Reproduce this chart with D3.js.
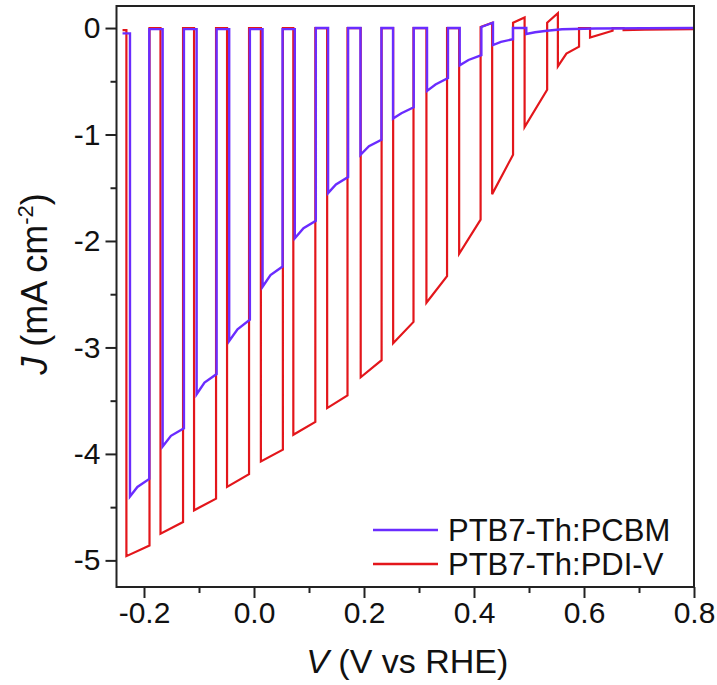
<!DOCTYPE html>
<html><head><meta charset="utf-8">
<script src="https://cdn.jsdelivr.net/npm/d3@7/dist/d3.min.js"></script>
<style>body{margin:0;background:#fff}svg{display:block}text{font-family:"Liberation Sans",Arial,sans-serif;fill:#111}</style>
</head><body><svg id="c" width="717" height="685"></svg>
<script>
// PTB7-Th:PDI-V (red) chopped-light LSV, points [V, J]
const pdiV = [-0.239,-0.232,-0.232,-0.190,-0.190,-0.170,-0.170,-0.129,-0.129,-0.109,-0.109,-0.069,-0.069,-0.049,-0.049,-0.009,-0.009,0.0125,0.0125,0.0525,0.0525,0.0715,0.0715,0.1115,0.1115,0.133,0.133,0.170,0.170,0.194,0.194,0.232,0.232,0.253,0.253,0.290,0.290,0.3135,0.3135,0.351,0.351,0.373,0.373,0.412,0.412,0.433,0.433,0.471,0.471,0.492,0.492,0.533,0.533,0.5525,0.5525,0.568,0.591,0.591,0.611,0.611,0.652,0.652,0.672,0.672,0.71,0.8];
const pdiJ = [-0.02,-0.02,-4.96,-4.86,0.0,0.0,-4.75,-4.64,0.0,0.0,-4.53,-4.42,0.0,0.0,-4.31,-4.19,0.0,0.0,-4.07,-3.96,0.0,0.0,-3.82,-3.70,0.0,0.0,-3.57,-3.45,0.0,0.0,-3.28,-3.12,0.0,0.0,-2.96,-2.76,0.0,0.0,-2.58,-2.33,0.0,0.0,-2.12,-1.80,0.01,0.05,-1.56,-1.19,0.05,0.10,-0.93,-0.58,0.05,0.14,-0.36,-0.24,-0.175,0.0,0.0,-0.09,-0.025,0.0,0.0,-0.02,-0.015,-0.01];
// PTB7-Th:PCBM (blue)
const pcbmV = [-0.239,-0.2255,-0.2255,-0.212,-0.1904,-0.1904,-0.1661,-0.1661,-0.151,-0.1274,-0.1274,-0.1043,-0.1043,-0.090,-0.0680,-0.0680,-0.0451,-0.0451,-0.030,-0.0075,-0.0075,0.0156,0.0156,0.030,0.0519,0.0519,0.0742,0.0742,0.090,0.1124,0.1124,0.1347,0.1347,0.149,0.1711,0.1711,0.1936,0.1936,0.209,0.2317,0.2317,0.2528,0.2528,0.268,0.2904,0.2904,0.3146,0.3146,0.330,0.3527,0.3527,0.3740,0.3740,0.390,0.4134,0.4134,0.4345,0.4345,0.449,0.4708,0.4708,0.4951,0.4951,0.511,0.5326,0.56,0.62,0.8];
const pcbmJ = [-0.05,-0.05,-4.40,-4.31,-4.235,-0.01,-0.01,-3.93,-3.83,-3.76,-0.01,-0.01,-3.44,-3.33,-3.25,-0.01,-0.01,-2.94,-2.83,-2.74,-0.01,-0.01,-2.43,-2.32,-2.24,-0.01,-0.01,-1.975,-1.88,-1.81,0.0,0.0,-1.55,-1.47,-1.40,0.0,0.0,-1.19,-1.11,-1.05,0.0,0.0,-0.85,-0.80,-0.745,0.0,0.0,-0.59,-0.53,-0.47,0.0,0.0,-0.35,-0.30,-0.255,0.01,0.05,-0.16,-0.13,-0.105,0.0,0.0,-0.056,-0.04,-0.025,-0.012,-0.004,0.0];
const seriesNames = ["PTB7-Th:PCBM","PTB7-Th:PDI-V"];
const seriesColors = ["#6a2cff","#e3161b"];
const xMajor = [-0.2,0.0,0.2,0.4,0.6,0.8];
const xMinor = [-0.1,0.1,0.3,0.5,0.7];
const yMajor = [0,-1,-2,-3,-4,-5];
const yMinor = [-0.5,-1.5,-2.5,-3.5,-4.5];

const L=116.5,R=694,T=6,B=587;
const svg=d3.select("#c");
const x=d3.scaleLinear().domain([-0.25,0.8]).range([L,R]);
const y=d3.scaleLinear().domain([-5.25,0.207]).range([B,T]);

const line=d3.line().x(d=>x(d[0])).y(d=>y(d[1]));
const red=pdiV.map((v,i)=>[v,pdiJ[i]]);
const blue=pcbmV.map((v,i)=>[v,pcbmJ[i]]);
svg.append("path").attr("d",line(red)).attr("fill","none").attr("stroke",seriesColors[1]).attr("stroke-width",2.2);
svg.append("path").attr("d",line(blue)).attr("fill","none").attr("stroke",seriesColors[0]).attr("stroke-width",2.4);

// frame
svg.append("rect").attr("x",L).attr("y",T).attr("width",R-L).attr("height",B-T).attr("fill","none").attr("stroke","#222").attr("stroke-width",2);

const hy=f=>d=>f(d).replace("\u2212","-");
const xa=d3.axisBottom(x).tickValues(xMajor).tickFormat(hy(d3.format(".1f"))).tickSize(11).tickSizeOuter(0).tickPadding(4);
const gx=svg.append("g").attr("transform",`translate(0,${B})`).call(xa);
gx.select(".domain").remove();
gx.selectAll("line").attr("stroke","#222").attr("stroke-width",2);
gx.selectAll("text").style("font-size","30px").attr("fill","#111");
const gxm=svg.append("g").attr("transform",`translate(0,${B})`).call(d3.axisBottom(x).tickValues(xMinor).tickFormat("").tickSize(6).tickSizeOuter(0));
gxm.select(".domain").remove();gxm.selectAll("line").attr("stroke","#222").attr("stroke-width",2);

const ya=d3.axisLeft(y).tickValues(yMajor).tickFormat(hy(d3.format("d"))).tickSize(11).tickSizeOuter(0).tickPadding(5);
const gy=svg.append("g").attr("transform",`translate(${L},0)`).call(ya);
gy.select(".domain").remove();
gy.selectAll("line").attr("stroke","#222").attr("stroke-width",2);
gy.selectAll("text").style("font-size","30px").attr("fill","#111");
const gym=svg.append("g").attr("transform",`translate(${L},0)`).call(d3.axisLeft(y).tickValues(yMinor).tickFormat("").tickSize(6).tickSizeOuter(0));
gym.select(".domain").remove();gym.selectAll("line").attr("stroke","#222").attr("stroke-width",2);

// axis titles
const xt=svg.append("text").attr("x",(L+R)/2+2).attr("y",673).attr("text-anchor","middle").style("font-size","34px");
xt.append("tspan").attr("font-style","italic").text("V");
xt.append("tspan").text(" (V vs RHE)");
const yt=svg.append("text").attr("transform",`translate(47,284) rotate(-90)`).attr("text-anchor","middle").style("font-size","36px");
yt.append("tspan").attr("font-style","italic").text("J");
yt.append("tspan").text(" (mA cm");
yt.append("tspan").attr("dy",-14).style("font-size","22px").text("-2");
yt.append("tspan").attr("dy",14).text(")");

// legend
const lg=svg.append("g");
seriesNames.forEach((n,i)=>{
  const yy=530+i*34;
  lg.append("line").attr("x1",373).attr("x2",438).attr("y1",yy).attr("y2",yy).attr("stroke",seriesColors[i]).attr("stroke-width",2.5);
  lg.append("text").attr("x",448).attr("y",yy+11).style("font-size","31px").text(n);
});
</script></body></html>
